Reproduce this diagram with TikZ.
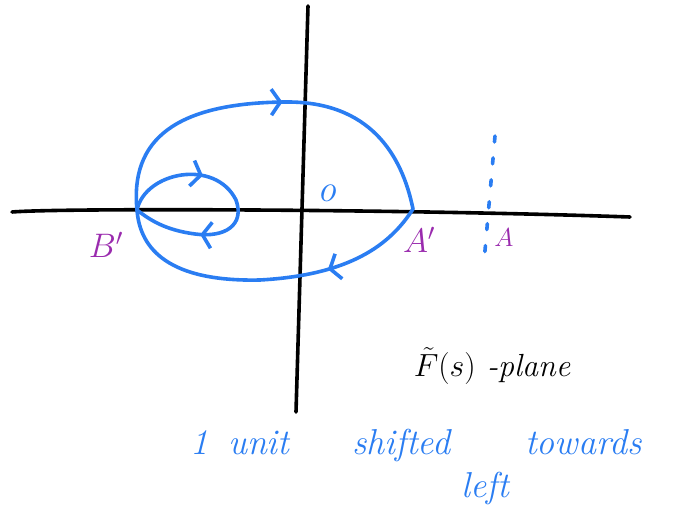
\RequirePackage{fix-cm}
\documentclass[tikz,border=0pt]{standalone}
\usepackage{tikz}
\usetikzlibrary{arrows.meta,positioning,calc,decorations.markings}
\definecolor{penblue}{HTML}{2A7DF2}
\definecolor{penpurple}{HTML}{9A2BAE}
\tikzset{barb/.tip={Straight Barb[length=9pt,width=26pt]}}

\begin{document}
\begin{tikzpicture}[x=1pt,y=-1pt,every node/.style={inner sep=0pt,font=\itshape},
  axis/.style={line width=3.6pt,line cap=round,black},
  contour/.style={line width=3.6pt,line cap=round,penblue},
  arrow at/.style={postaction={decorate,decoration={markings,mark=at position #1 with {\arrow{barb}}}}},
  purplelbl/.style={text=penpurple},
  bluelbl/.style={text=penblue}]
\useasboundingbox (0,0) rectangle (673,513);
% axes
\coordinate (xl) at (12,212);
\coordinate (xr) at (630,217);
\coordinate (yt) at (308,6);
\coordinate (yb) at (296,412);
\draw[axis] (xl) .. controls (60,208) and (400,209) .. (xr);
\draw[axis] (yt)--(yb);
% crossing points of the contour
\coordinate (Ap) at (413,209);
\coordinate (Bp) at (137,210);
% contour
\draw[contour,arrow at=0.53] (Bp) .. controls (130,140) and (175,103) .. (285,102) .. controls (370,101) and (402,155) .. (Ap);
\draw[contour,arrow at=0.32] (Ap) .. controls (390,245) and (350,275) .. (260,280) .. controls (170,282) and (140,250) .. (Bp);
\draw[contour,arrow at=0.32,arrow at=0.73] (Bp) .. controls (145,172) and (215,158) .. (236,200) .. controls (245,225) and (225,238) .. (195,234) .. controls (165,230) and (150,220) .. (Bp);
% shifted line through A
\coordinate (At) at (495,136);
\coordinate (Ab) at (484,262);
\draw[contour,dash pattern=on 6pt off 16pt] (At)--(Ab);
% labels
\node[bluelbl,font=\fontsize{38}{40}\selectfont\itshape] (olbl) at (327,193) {o};
\node[purplelbl,font=\fontsize{34}{36}\selectfont] (Alblp) at (419,240) {$A'$};
\node[purplelbl,font=\fontsize{34}{36}\selectfont] (Blblp) at (106,245) {$B'$};
\node[purplelbl,font=\fontsize{26}{28}\selectfont] (Albl) at (504,238) {$A$};
\node[font=\fontsize{32}{36}\selectfont\itshape] (plane) at (492,366) {$\tilde{F}(s)$ -plane};
\node[bluelbl,anchor=base west,font=\fontsize{36}{42}\selectfont\itshape] (note) at (190,455)
  {\makebox[38pt][l]{1}\makebox[124pt][l]{unit}\makebox[173pt][l]{shifted}towards};
\node[bluelbl,anchor=base,font=\fontsize{36}{42}\selectfont\itshape] (notel) at (485,497) {left};
\end{tikzpicture}
\end{document}
